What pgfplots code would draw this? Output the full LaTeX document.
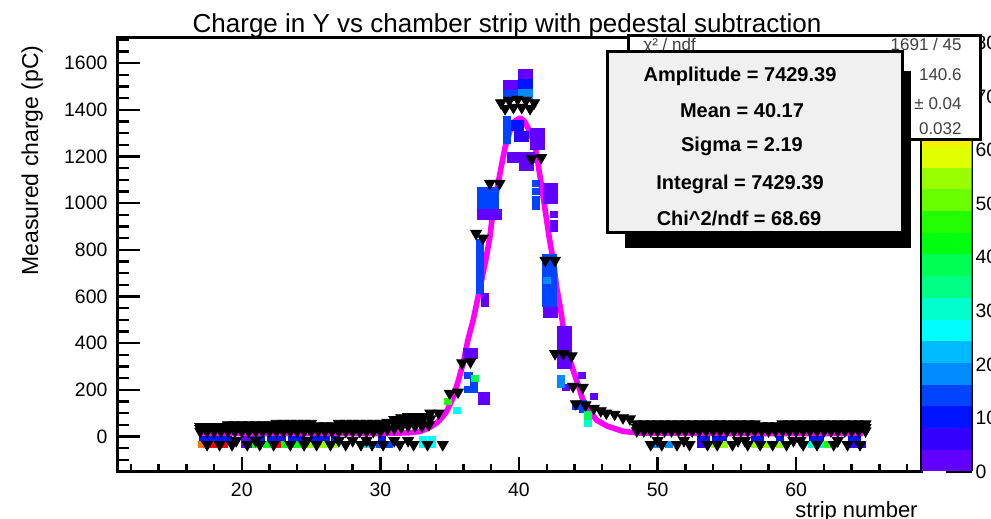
\documentclass[border=0pt]{standalone}
\usepackage{pgfplots}
\pgfplotsset{compat=1.18}
\usepackage{fontspec}
\setmainfont{Liberation Sans}
\definecolor{c0}{RGB}{97,0,255}
\definecolor{c1}{RGB}{51,0,255}
\definecolor{c2}{RGB}{0,20,255}
\definecolor{c3}{RGB}{0,68,255}
\definecolor{c4}{RGB}{0,139,255}
\definecolor{c5}{RGB}{0,187,255}
\definecolor{c6}{RGB}{0,255,252}
\definecolor{c7}{RGB}{0,255,204}
\definecolor{c8}{RGB}{0,255,133}
\definecolor{c9}{RGB}{0,255,85}
\definecolor{c10}{RGB}{0,255,14}
\definecolor{c11}{RGB}{34,255,0}
\definecolor{c12}{RGB}{105,255,0}
\definecolor{c13}{RGB}{153,255,0}
\definecolor{c14}{RGB}{224,255,0}
\definecolor{c15}{RGB}{255,238,0}
\definecolor{c16}{RGB}{255,167,0}
\definecolor{c17}{RGB}{255,119,0}
\definecolor{c18}{RGB}{255,48,0}
\definecolor{c19}{RGB}{255,0,0}
\definecolor{statgray}{RGB}{240,240,240}
\pgfplotsset{
  bigcell/.style={only marks, mark=square*, mark size=2.5pt, mark options={xscale=1.4}, forget plot},
  smallcell/.style={only marks, mark=square*, mark size=1.5pt, mark options={xscale=1.17}, forget plot},
  tri/.style={only marks, black, mark=triangle*, mark size=3.1pt, mark options={rotate=180}, forget plot},
}
\newcommand{\tickfont}{\fontsize{9.7}{11}\selectfont}
\begin{document}
\begin{tikzpicture}[x=0.5pt,y=0.5pt]
\useasboundingbox (0,0) rectangle (991,519);
% ---------- main axis: data, x ticks ----------
\begin{axis}[
  at={(58.5pt,23.75pt)}, anchor=south west,
  scale only axis, width=402pt, height=217pt,
  xmin=11, xmax=69, ymin=-150, ymax=1710,
  axis line style={line width=1.5pt},
  xtick={20,30,40,50,60}, minor xtick={12,14,...,68},
  ytick=\empty,
  xtick pos=left, tick align=inside,
  major tick length=7pt, minor tick length=3.5pt,
  every tick/.append style={line width=1.2pt, black},
  xticklabel style={font=\tickfont, yshift=-2pt},
  /pgf/number format/assume math mode=true,
]
% ----- 2D histogram cells (peak) -----
\addplot[bigcell, c0] coordinates {(40.47,1552) (39.4,1505) (41.3,1250) (41.3,1300) (39.7,1195) (40.6,1195) (40.5,1160) (42.3,1065) (42.3,1020) (37.5,950) (38.2,950) (42.3,530) (43.3,450) (43.3,405) (43.3,360) (43.3,315) (36.5,355)};
\addplot[bigcell, c2] coordinates {(40.47,1507) (39.8,1335)};
\addplot[bigcell, c1] coordinates {(40.15,1285)};
\addplot[bigcell, c3] coordinates {(39.4,1460) (37.5,1045) (38.0,1045) (37.5,1000) (38.0,1000) (42.2,760) (42.2,715) (42.2,670) (42.2,625) (42.2,580)};
\addplot[bigcell, c4] coordinates {(40.47,1464)};
\addplot[smallcell, c3] coordinates {(39.15,1360) (39.15,1330) (39.15,1300) (39.15,1270) (41.2,1085) (41.2,1050) (41.2,1015) (41.2,985) (37.15,830) (37.15,800) (37.15,770) (37.15,740) (37.15,710) (37.15,680) (37.15,650) (37.15,625) (36.35,260) (36.75,230) (36.35,200) (36.75,200) (44.1,130) (44.6,115) (44.6,140)};
\addplot[smallcell, c0] coordinates {(37.55,600) (37.55,570) (42.5,950) (42.5,915) (42.5,890) (43.35,210) (44.55,262) (45.4,172) (37.3,175) (37.6,175) (37.3,150) (37.6,150)};
\addplot[smallcell, c4] coordinates {(42.0,670) (43.05,250) (43.05,225)};
\addplot[smallcell, c9] coordinates {(45.0,75) (36.8,250) (45.0,95)};
\addplot[smallcell, c11] coordinates {(34.9,150)};
\addplot[smallcell, c6] coordinates {(35.5,110)};
\addplot[smallcell, c7] coordinates {(45.0,55)};
% ----- 2D histogram cells (pedestal rows) -----
\addplot[smallcell, c2] coordinates {(17.2,-13) (17.6,-13) (18.0,-13) (18.3,-13) (18.7,-13) (19.0,-13) (21.4,-13) (22.1,-13) (22.5,-13) (22.9,-13) (23.6,-13) (24.1,-13) (25.3,-13) (25.7,-13) (26.1,-13) (26.7,-13) (30.1,-13) (30.1,-36) (53.1,-13) (53.5,-13) (54.2,-13) (54.7,-13) (57.0,-13) (57.4,-13) (58.8,-13) (61.2,-13) (61.7,-13) (64.0,-13) (64.4,-13)};
\addplot[smallcell, c17] coordinates {(17.1,-36) (17.8,-36)};
\addplot[smallcell, c19] coordinates {(18.0,-36) (18.7,-36) (22.0,-36) (22.6,-36)};
\addplot[smallcell, c0] coordinates {(20.2,-36) (20.6,-36) (20.2,-13) (20.6,-13)};
\addplot[smallcell, c11] coordinates {(21.0,-36) (62.1,-36) (62.7,-36)};
\addplot[smallcell, c10] coordinates {(21.8,-36) (23.1,-36) (23.6,-36) (24.0,-36) (24.3,-36)};
\addplot[smallcell, c13] coordinates {(24.9,-36) (25.6,-36) (26.0,-36) (26.4,-36) (26.6,-36) (54.1,-36) (54.8,-36) (57.0,-36) (57.8,-36) (58.8,-36)};
\addplot[smallcell, c6] coordinates {(29.1,-36) (29.6,-36) (33.1,-36) (33.7,-36) (33.1,-13) (33.7,-13)};
\addplot[smallcell, c3] coordinates {(30.0,-36) (30.6,-36)};
\addplot[smallcell, c4] coordinates {(49.9,-36) (50.8,-36)};
\addplot[smallcell, c1] coordinates {(53.1,-36) (53.4,-36) (64.1,-36) (64.3,-36) (64.7,-36)};
\addplot[smallcell, c7] coordinates {(61.1,-36) (61.7,-36)};
% ----- black markers -----
\addplot[tri] coordinates {(17.0,42) (17.5,42) (18.0,42) (18.5,42) (19.0,50) (19.5,50) (20.0,50) (20.5,50) (21.0,50) (21.5,50) (22.0,50) (22.5,56) (23.0,56) (23.5,56) (24.0,56) (24.5,56) (25.0,56) (25.5,46) (26.0,46) (26.5,46) (27.0,56) (27.5,56) (28.0,56) (28.5,56) (29.0,56) (29.5,56) (30.0,56)};
\addplot[tri] coordinates {(17.0,34) (17.5,34) (18.0,34) (18.5,34) (19.0,36) (19.5,36) (20.0,36) (20.5,36) (21.0,36) (21.5,36) (22.0,36) (22.5,38) (23.0,38) (23.5,38) (24.0,38) (24.5,38) (25.0,38) (25.5,36) (26.0,36) (26.5,36) (27.0,38) (27.5,38) (28.0,38) (28.5,38) (29.0,38) (29.5,38) (30.0,38)};
\addplot[tri] coordinates {(17.0,22) (17.5,22) (18.0,22) (18.5,22) (19.0,22) (19.5,22) (20.0,22) (20.5,22) (21.0,22) (21.5,22) (22.0,22) (22.5,22) (23.0,22) (23.5,22) (24.0,22) (24.5,22) (25.0,22) (25.5,22) (26.0,22) (26.5,22) (27.0,22) (27.5,22) (28.0,22) (28.5,22) (29.0,22) (29.5,22) (30.0,22)};
\addplot[tri] coordinates {(30.5,60) (31.0,72) (31.5,80) (32.0,85) (32.5,85) (33.0,85) (33.6,100) (34.2,100) (30.5,30) (31.0,35) (31.5,40) (32.0,45) (32.5,45) (33.0,45) (33.5,50) (31.0,55) (31.5,60) (32.0,65) (32.5,65) (33.0,65) (33.6,75)};
\addplot[tri] coordinates {(35.0,185) (35.6,190) (35.9,315) (36.5,320) (36.9,870) (37.4,850) (37.9,1085) (38.6,1085) (38.7,1430) (39.3,1440) (39.9,1445) (40.5,1440) (41.1,1430) (39.0,1405) (39.6,1410) (40.2,1410) (40.8,1405) (40.9,1190) (41.6,1195) (41.9,755) (42.6,755) (42.6,355) (43.2,355) (43.8,345) (43.9,215) (44.6,210) (44.1,140) (44.8,135) (45.4,120) (45.9,110) (46.3,100) (46.9,95) (47.5,80) (48.0,75)};
\addplot[tri] coordinates {(48.5,54) (49.0,54) (49.5,54) (50.0,54) (50.5,54) (51.0,54) (51.5,54) (52.0,54) (52.5,54) (53.0,54) (53.5,54) (54.0,54) (54.5,54) (55.0,54) (55.5,54) (56.0,54) (56.5,54) (57.0,54) (57.5,46) (58.0,46) (58.5,46) (59.0,54) (59.5,54) (60.0,54) (60.5,54) (61.0,54) (61.5,54) (62.0,54) (62.5,54) (63.0,54) (63.5,54) (64.0,54) (64.5,54) (65.0,54)};
\addplot[tri] coordinates {(48.5,38) (49.0,38) (49.5,38) (50.0,38) (50.5,38) (51.0,38) (51.5,38) (52.0,38) (52.5,38) (53.0,38) (53.5,38) (54.0,38) (54.5,38) (55.0,38) (55.5,38) (56.0,38) (56.5,38) (57.0,38) (57.5,36) (58.0,36) (58.5,36) (59.0,38) (59.5,38) (60.0,38) (60.5,38) (61.0,38) (61.5,38) (62.0,38) (62.5,38) (63.0,38) (63.5,38) (64.0,38) (64.5,38) (65.0,38)};
\addplot[tri] coordinates {(48.5,24) (49.0,24) (49.5,24) (50.0,24) (50.5,24) (51.0,24) (51.5,24) (52.0,24) (52.5,24) (53.0,24) (53.5,24) (54.0,24) (54.5,24) (55.0,24) (55.5,24) (56.0,24) (56.5,24) (57.0,24) (57.5,24) (58.0,24) (58.5,24) (59.0,24) (59.5,24) (60.0,24) (60.5,24) (61.0,24) (61.5,24) (62.0,24) (62.5,24) (63.0,24) (63.5,24) (64.0,24) (64.5,24) (65.0,24)};
\addplot[tri] coordinates {(17.5,-35) (18.4,-35) (19.3,-35) (20.4,-35) (21.3,-35) (22.3,-35) (23.5,-35) (24.5,-35) (25.4,-35) (26.4,-35) (27.5,-35) (28.6,-35) (29.4,-35) (30.2,-35) (31.4,-35) (32.4,-35) (33.4,-35) (34.5,-35) (49.5,-35) (50.3,-35) (51.4,-35) (52.3,-35) (53.6,-35) (54.3,-35) (55.4,-35) (56.5,-35) (57.4,-35) (58.3,-35) (59.3,-35) (60.5,-35) (61.5,-35) (62.7,-35) (63.7,-35) (64.6,-35)};
\addplot[tri] coordinates {(19.6,-18) (21.0,-18) (24.7,-18) (27.0,-18) (28.0,-18) (29.0,-18) (31.0,-18) (32.0,-18) (50.0,-18) (51.9,-18) (55.8,-18) (56.3,-18) (59.8,-18) (60.3,-18) (63.0,-18)};
% ----- fit curve -----
\addplot[color={rgb,255:red,255;green,0;blue,255}, line width=2.8pt, line join=round] coordinates {(17.0,13) (24.0,13) (30.0,13) (32.1,16) (32.9,22) (33.6,40) (34.1,60) (34.5,85) (34.8,110) (35.2,160) (35.6,235) (36.0,320) (36.3,410) (36.7,500) (37.0,585) (37.3,670) (37.6,755) (37.9,855) (38.1,955) (38.4,1055) (38.7,1150) (39.0,1240) (39.35,1310) (39.7,1352) (40.1,1365) (40.4,1350) (40.8,1305) (41.2,1235) (41.45,1140) (41.7,1045) (41.95,945) (42.2,845) (42.5,745) (42.7,645) (43.0,545) (43.25,445) (43.5,360) (43.9,285) (44.3,215) (44.6,158) (45.1,108) (45.6,70) (46.35,45) (47.5,22) (48.7,15) (55.0,13) (64.8,13)};
\end{axis}
% ---------- overlay axis: y ticks ----------
\begin{axis}[
  at={(58.5pt,23.75pt)}, anchor=south west,
  scale only axis, width=402pt, height=217pt,
  xmin=11, xmax=69, ymin=-150, ymax=1710,
  axis line style={line width=1.5pt},
  xtick=\empty,
  ytick={0,200,...,1600}, minor ytick={-150,-100,...,1700},
  ytick pos=left, tick align=inside,
  major tick length=11.5pt, minor tick length=6pt,
  every tick/.append style={line width=1.2pt, black},
  yticklabel style={font=\tickfont, xshift=-1.3pt},
  /pgf/number format/1000 sep={},
  /pgf/number format/assume math mode=true,
]
\addplot[draw=none, forget plot] coordinates {(20,0)};
\end{axis}
% ---------- palette ----------
\begin{axis}[
  at={(460.75pt,23.75pt)}, anchor=south west,
  scale only axis, width=25pt, height=217pt,
  xmin=0, xmax=1, ymin=0, ymax=81,
  separate axis lines,
  x axis line style={draw=none},
  y axis line style={line width=1.5pt},
  xtick=\empty,
  ytick={0,10,...,80}, minor ytick={},
  ytick pos=right, yticklabel pos=right, tick align=inside,
  major tick length=13pt,
  every tick/.append style={line width=1.2pt, black},
  yticklabel style={font=\tickfont, anchor=west, xshift=-1.5pt},
  /pgf/number format/assume math mode=true,
]
\addplot[fill=c0, draw=none] coordinates {(0,0) (1,0) (1,4.05) (0,4.05)} -- cycle;
\addplot[fill=c1, draw=none] coordinates {(0,4.05) (1,4.05) (1,8.1) (0,8.1)} -- cycle;
\addplot[fill=c2, draw=none] coordinates {(0,8.1) (1,8.1) (1,12.15) (0,12.15)} -- cycle;
\addplot[fill=c3, draw=none] coordinates {(0,12.15) (1,12.15) (1,16.2) (0,16.2)} -- cycle;
\addplot[fill=c4, draw=none] coordinates {(0,16.2) (1,16.2) (1,20.25) (0,20.25)} -- cycle;
\addplot[fill=c5, draw=none] coordinates {(0,20.25) (1,20.25) (1,24.3) (0,24.3)} -- cycle;
\addplot[fill=c6, draw=none] coordinates {(0,24.3) (1,24.3) (1,28.35) (0,28.35)} -- cycle;
\addplot[fill=c7, draw=none] coordinates {(0,28.35) (1,28.35) (1,32.4) (0,32.4)} -- cycle;
\addplot[fill=c8, draw=none] coordinates {(0,32.4) (1,32.4) (1,36.45) (0,36.45)} -- cycle;
\addplot[fill=c9, draw=none] coordinates {(0,36.45) (1,36.45) (1,40.5) (0,40.5)} -- cycle;
\addplot[fill=c10, draw=none] coordinates {(0,40.5) (1,40.5) (1,44.55) (0,44.55)} -- cycle;
\addplot[fill=c11, draw=none] coordinates {(0,44.55) (1,44.55) (1,48.6) (0,48.6)} -- cycle;
\addplot[fill=c12, draw=none] coordinates {(0,48.6) (1,48.6) (1,52.65) (0,52.65)} -- cycle;
\addplot[fill=c13, draw=none] coordinates {(0,52.65) (1,52.65) (1,56.7) (0,56.7)} -- cycle;
\addplot[fill=c14, draw=none] coordinates {(0,56.7) (1,56.7) (1,60.75) (0,60.75)} -- cycle;
\addplot[fill=c15, draw=none] coordinates {(0,60.75) (1,60.75) (1,64.8) (0,64.8)} -- cycle;
\addplot[fill=c16, draw=none] coordinates {(0,64.8) (1,64.8) (1,68.85) (0,68.85)} -- cycle;
\addplot[fill=c17, draw=none] coordinates {(0,68.85) (1,68.85) (1,72.9) (0,72.9)} -- cycle;
\addplot[fill=c18, draw=none] coordinates {(0,72.9) (1,72.9) (1,76.95) (0,76.95)} -- cycle;
\addplot[fill=c19, draw=none] coordinates {(0,76.95) (1,76.95) (1,81) (0,81)} -- cycle;
\end{axis}
% ---------- titles ----------
\node[font=\fontsize{13}{15}\selectfont, anchor=base, inner sep=0] at (507,486) {Charge in Y vs chamber strip with pedestal subtraction};
\node[font=\fontsize{11.5}{13}\selectfont, rotate=90, anchor=base east, inner sep=0] at (38,474) {Measured charge (pC)};
\node[font=\fontsize{11}{13}\selectfont, anchor=base east, inner sep=0] at (918,1.5) {strip number};
% ---------- stats boxes ----------
\draw[line width=1.5pt, fill=white] (628.5,483.5) rectangle (980,379.5);
\begin{scope}[every node/.style={font=\fontsize{8.5}{10}\selectfont, text=black!75, inner sep=0}]
\node[anchor=base west] at (643,468) {χ² / ndf};
\node[anchor=base east] at (962,468) {1691 / 45};
\node[anchor=base east] at (962,438) {140.6};
\node[anchor=base east] at (962,409) {± 0.04};
\node[anchor=base east] at (962,384) {0.032};
\end{scope}
\fill[black] (625,448) rectangle (911,271);
\draw[line width=1.5pt, fill=statgray] (607,467) rectangle (902,286);
\begin{scope}[every node/.style={font=\bfseries\fontsize{10}{12}\selectfont, anchor=base, inner sep=0}]
\node at (740,437) {Amplitude = 7429.39};
\node at (742,401) {Mean = 40.17};
\node at (742,367) {Sigma = 2.19};
\node at (740,329) {Integral = 7429.39};
\node at (739,293) {Chi\textasciicircum 2/ndf = 68.69};
\end{scope}
\end{tikzpicture}
\end{document}
